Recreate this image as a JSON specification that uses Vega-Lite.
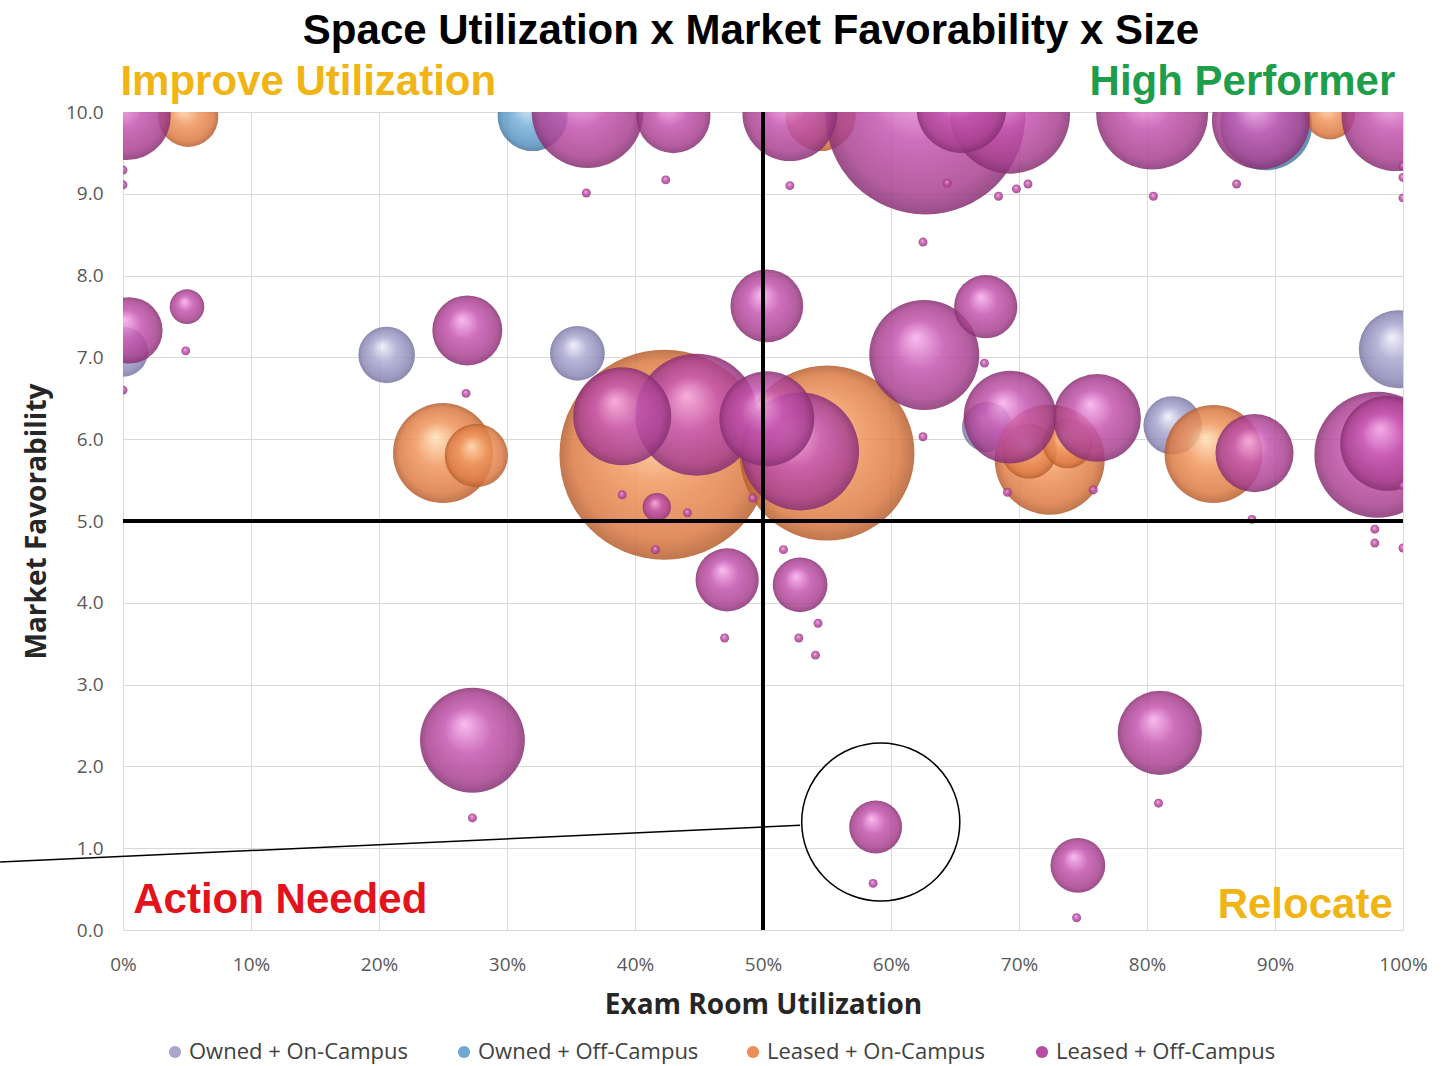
{
  "$schema": "https://vega.github.io/schema/vega-lite/v6.json",
  "width": 1280,
  "height": 818,
  "autosize": {"type": "none"},
  "padding": {"left": 123, "top": 112, "right": 47, "bottom": 136},
  "background": "white",
  "title": {
    "text": "Space Utilization x Market Favorability x Size",
    "font": "Liberation Sans",
    "fontSize": 42,
    "fontWeight": "bold",
    "color": "#000000",
    "anchor": "middle",
    "dx": -12,
    "offset": 8
  },
  "config": {
    "view": {"stroke": null},
    "axis": {
      "domain": false,
      "ticks": false,
      "tickSize": 0,
      "grid": true,
      "gridColor": "#d9d9d9",
      "gridWidth": 1,
      "labelFlush": false,
      "labelFont": "Open Sans",
      "labelFontSize": 19,
      "labelColor": "#595959",
      "titleFont": "Open Sans",
      "titleFontSize": 28,
      "titleFontWeight": "bold",
      "titleColor": "#262626"
    }
  },
  "datasets": {
    "bubbles": [
      {"type": "Owned + On-Campus", "x": 0.0, "y": 7.07, "size": 25},
      {"type": "Owned + On-Campus", "x": 20.6, "y": 7.03, "size": 32},
      {"type": "Owned + On-Campus", "x": 35.5, "y": 7.05, "size": 30},
      {"type": "Owned + On-Campus", "x": 67.5, "y": 6.15, "size": 25},
      {"type": "Owned + On-Campus", "x": 82.0, "y": 6.17, "size": 34},
      {"type": "Owned + On-Campus", "x": 99.6, "y": 7.1, "size": 61},
      {"type": "Owned + Off-Campus", "x": 32.0, "y": 9.95, "size": 49},
      {"type": "Owned + Off-Campus", "x": 89.3, "y": 9.85, "size": 85},
      {"type": "Leased + On-Campus", "x": 42.3, "y": 5.81, "size": 441},
      {"type": "Leased + On-Campus", "x": 55.0, "y": 5.83, "size": 306},
      {"type": "Leased + On-Campus", "x": 72.4, "y": 5.75, "size": 121},
      {"type": "Leased + On-Campus", "x": 25.0, "y": 5.83, "size": 100},
      {"type": "Leased + On-Campus", "x": 85.2, "y": 5.82, "size": 96},
      {"type": "Leased + On-Campus", "x": 54.5, "y": 9.95, "size": 49},
      {"type": "Leased + On-Campus", "x": 27.6, "y": 5.8, "size": 40},
      {"type": "Leased + On-Campus", "x": 5.1, "y": 9.94, "size": 36},
      {"type": "Leased + On-Campus", "x": 70.8, "y": 5.85, "size": 30},
      {"type": "Leased + On-Campus", "x": 73.8, "y": 5.95, "size": 25},
      {"type": "Leased + On-Campus", "x": 94.3, "y": 9.97, "size": 25},
      {"type": "Leased + Off-Campus", "x": 62.7, "y": 9.97, "size": 400},
      {"type": "Leased + Off-Campus", "x": 98.0, "y": 5.81, "size": 159},
      {"type": "Leased + Off-Campus", "x": 44.8, "y": 6.3, "size": 149},
      {"type": "Leased + Off-Campus", "x": 52.9, "y": 5.85, "size": 139},
      {"type": "Leased + Off-Campus", "x": 69.3, "y": 9.98, "size": 144},
      {"type": "Leased + Off-Campus", "x": 36.3, "y": 10.0, "size": 125},
      {"type": "Leased + Off-Campus", "x": 80.4, "y": 9.98, "size": 125},
      {"type": "Leased + Off-Campus", "x": 62.6, "y": 7.03, "size": 121},
      {"type": "Leased + Off-Campus", "x": 99.5, "y": 9.95, "size": 121},
      {"type": "Leased + Off-Campus", "x": 27.3, "y": 2.32, "size": 110},
      {"type": "Leased + Off-Campus", "x": 39.0, "y": 6.28, "size": 96},
      {"type": "Leased + Off-Campus", "x": 88.9, "y": 9.9, "size": 96},
      {"type": "Leased + Off-Campus", "x": 50.3, "y": 6.25, "size": 90},
      {"type": "Leased + Off-Campus", "x": 52.1, "y": 9.98, "size": 90},
      {"type": "Leased + Off-Campus", "x": 98.8, "y": 5.95, "size": 90},
      {"type": "Leased + Off-Campus", "x": 69.3, "y": 6.27, "size": 86},
      {"type": "Leased + Off-Campus", "x": 65.5, "y": 10.05, "size": 81},
      {"type": "Leased + Off-Campus", "x": 0.3, "y": 9.95, "size": 77},
      {"type": "Leased + Off-Campus", "x": 76.1, "y": 6.26, "size": 77},
      {"type": "Leased + Off-Campus", "x": 81.0, "y": 2.41, "size": 71},
      {"type": "Leased + Off-Campus", "x": 88.4, "y": 5.83, "size": 61},
      {"type": "Leased + Off-Campus", "x": 43.0, "y": 9.95, "size": 55},
      {"type": "Leased + Off-Campus", "x": 50.3, "y": 7.63, "size": 53},
      {"type": "Leased + Off-Campus", "x": 26.9, "y": 7.33, "size": 49},
      {"type": "Leased + Off-Campus", "x": 0.5, "y": 7.33, "size": 44},
      {"type": "Leased + Off-Campus", "x": 67.4, "y": 7.62, "size": 40},
      {"type": "Leased + Off-Campus", "x": 47.2, "y": 4.28, "size": 40},
      {"type": "Leased + Off-Campus", "x": 52.9, "y": 4.22, "size": 30},
      {"type": "Leased + Off-Campus", "x": 74.6, "y": 0.79, "size": 30},
      {"type": "Leased + Off-Campus", "x": 58.8, "y": 1.26, "size": 28},
      {"type": "Leased + Off-Campus", "x": 5.0, "y": 7.62, "size": 12},
      {"type": "Leased + Off-Campus", "x": 41.7, "y": 5.17, "size": 8},
      {"type": "Leased + Off-Campus", "x": 0.0, "y": 9.29, "size": 0.8},
      {"type": "Leased + Off-Campus", "x": 0.0, "y": 9.11, "size": 0.8},
      {"type": "Leased + Off-Campus", "x": 36.2, "y": 9.01, "size": 0.8},
      {"type": "Leased + Off-Campus", "x": 42.4, "y": 9.17, "size": 0.8},
      {"type": "Leased + Off-Campus", "x": 52.1, "y": 9.1, "size": 0.8},
      {"type": "Leased + Off-Campus", "x": 64.4, "y": 9.13, "size": 0.8},
      {"type": "Leased + Off-Campus", "x": 62.5, "y": 8.41, "size": 0.8},
      {"type": "Leased + Off-Campus", "x": 68.4, "y": 8.97, "size": 0.8},
      {"type": "Leased + Off-Campus", "x": 69.8, "y": 9.06, "size": 0.8},
      {"type": "Leased + Off-Campus", "x": 70.7, "y": 9.12, "size": 0.8},
      {"type": "Leased + Off-Campus", "x": 80.5, "y": 8.97, "size": 0.8},
      {"type": "Leased + Off-Campus", "x": 87.0, "y": 9.12, "size": 0.8},
      {"type": "Leased + Off-Campus", "x": 100.0, "y": 9.34, "size": 0.8},
      {"type": "Leased + Off-Campus", "x": 100.0, "y": 9.2, "size": 0.8},
      {"type": "Leased + Off-Campus", "x": 100.0, "y": 8.95, "size": 0.8},
      {"type": "Leased + Off-Campus", "x": 0.0, "y": 6.6, "size": 0.8},
      {"type": "Leased + Off-Campus", "x": 4.9, "y": 7.08, "size": 0.8},
      {"type": "Leased + Off-Campus", "x": 26.8, "y": 6.56, "size": 0.8},
      {"type": "Leased + Off-Campus", "x": 67.3, "y": 6.93, "size": 0.8},
      {"type": "Leased + Off-Campus", "x": 62.5, "y": 6.03, "size": 0.8},
      {"type": "Leased + Off-Campus", "x": 39.0, "y": 5.32, "size": 0.8},
      {"type": "Leased + Off-Campus", "x": 44.1, "y": 5.1, "size": 0.8},
      {"type": "Leased + Off-Campus", "x": 41.6, "y": 4.65, "size": 0.8},
      {"type": "Leased + Off-Campus", "x": 49.2, "y": 5.28, "size": 0.8},
      {"type": "Leased + Off-Campus", "x": 51.6, "y": 4.65, "size": 0.8},
      {"type": "Leased + Off-Campus", "x": 69.1, "y": 5.35, "size": 0.8},
      {"type": "Leased + Off-Campus", "x": 75.8, "y": 5.38, "size": 0.8},
      {"type": "Leased + Off-Campus", "x": 88.2, "y": 5.02, "size": 0.8},
      {"type": "Leased + Off-Campus", "x": 100.0, "y": 5.43, "size": 0.8},
      {"type": "Leased + Off-Campus", "x": 97.8, "y": 4.9, "size": 0.8},
      {"type": "Leased + Off-Campus", "x": 97.8, "y": 4.73, "size": 0.8},
      {"type": "Leased + Off-Campus", "x": 100.0, "y": 4.67, "size": 0.8},
      {"type": "Leased + Off-Campus", "x": 47.0, "y": 3.57, "size": 0.8},
      {"type": "Leased + Off-Campus", "x": 52.8, "y": 3.57, "size": 0.8},
      {"type": "Leased + Off-Campus", "x": 54.3, "y": 3.75, "size": 0.8},
      {"type": "Leased + Off-Campus", "x": 54.1, "y": 3.36, "size": 0.8},
      {"type": "Leased + Off-Campus", "x": 27.3, "y": 1.37, "size": 0.8},
      {"type": "Leased + Off-Campus", "x": 80.9, "y": 1.55, "size": 0.8},
      {"type": "Leased + Off-Campus", "x": 58.6, "y": 0.57, "size": 0.8},
      {"type": "Leased + Off-Campus", "x": 74.5, "y": 0.15, "size": 0.8}
    ]
  },
  "data": {"name": "bubbles"},
  "layer": [
    {
      "mark": {"type": "point", "filled": true, "opacity": 0},
      "encoding": {
        "x": {
          "field": "x", "type": "quantitative",
          "scale": {"domain": [0, 100], "nice": false, "zero": false},
          "axis": {
            "values": [0, 10, 20, 30, 40, 50, 60, 70, 80, 90, 100],
            "labelExpr": "datum.value + '%'",
            "labelPadding": 25,
            "title": "Exam Room Utilization",
            "titlePadding": 17
          }
        },
        "y": {
          "field": "y", "type": "quantitative",
          "scale": {"domain": [0, 10], "nice": false},
          "axis": {
            "values": [0, 1, 2, 3, 4, 5, 6, 7, 8, 9, 10],
            "format": ".1f",
            "labelPadding": 20,
            "title": "Market Favorability",
            "titlePadding": 14
          }
        },
        "color": {
          "field": "type", "type": "nominal",
          "scale": {
            "domain": ["Owned + On-Campus", "Owned + Off-Campus", "Leased + On-Campus", "Leased + Off-Campus"],
            "range": ["#A9A6CB", "#6FA8D3", "#EC8D55", "#B84BA3"]
          },
          "legend": {
            "title": null,
            "orient": "none",
            "legendX": 41,
            "legendY": 929,
            "direction": "horizontal",
            "columns": 4,
            "gridAlign": "all",
            "columnPadding": 43,
            "padding": 0,
            "symbolType": "circle",
            "symbolSize": 150,
            "symbolOpacity": 1,
            "symbolStrokeWidth": 0,
            "labelFont": "Open Sans",
            "labelFontSize": 22,
            "labelColor": "#404040",
            "labelLimit": 400,
            "labelOffset": 3
          }
        }
      }
    },
    {
      "transform": [{"filter": "datum.type === 'Owned + On-Campus'"}],
      "mark": {
        "type": "circle", "clip": true, "opacity": 0.85,
        "fill": {"gradient": "radial", "x1": 0.42, "y1": 0.34, "r1": 0, "x2": 0.5, "y2": 0.5, "r2": 0.5,
          "stops": [{"offset": 0, "color": "#F0EEFA"}, {"offset": 0.45, "color": "#ABA8D0"}, {"offset": 0.85, "color": "#8D89B8"}, {"offset": 1, "color": "#77739F"}]}
      },
      "encoding": {
        "x": {"field": "x", "type": "quantitative", "scale": {"domain": [0, 100]}},
        "y": {"field": "y", "type": "quantitative", "scale": {"domain": [0, 10]}},
        "size": {"field": "size", "type": "quantitative", "scale": {"domain": [0, 500], "range": [0, 50000]}, "legend": null}
      }
    },
    {
      "transform": [{"filter": "datum.type === 'Owned + Off-Campus'"}],
      "mark": {
        "type": "circle", "clip": true, "opacity": 0.85,
        "fill": {"gradient": "radial", "x1": 0.42, "y1": 0.34, "r1": 0, "x2": 0.5, "y2": 0.5, "r2": 0.5,
          "stops": [{"offset": 0, "color": "#D6EBF8"}, {"offset": 0.45, "color": "#78B2DA"}, {"offset": 0.85, "color": "#5A94C2"}, {"offset": 1, "color": "#46789F"}]}
      },
      "encoding": {
        "x": {"field": "x", "type": "quantitative", "scale": {"domain": [0, 100]}},
        "y": {"field": "y", "type": "quantitative", "scale": {"domain": [0, 10]}},
        "size": {"field": "size", "type": "quantitative", "scale": {"domain": [0, 500], "range": [0, 50000]}, "legend": null}
      }
    },
    {
      "transform": [{"filter": "datum.type === 'Leased + On-Campus'"}],
      "mark": {
        "type": "circle", "clip": true, "opacity": 0.85,
        "fill": {"gradient": "radial", "x1": 0.42, "y1": 0.34, "r1": 0, "x2": 0.5, "y2": 0.5, "r2": 0.5,
          "stops": [{"offset": 0, "color": "#FFE0B8"}, {"offset": 0.45, "color": "#F0965E"}, {"offset": 0.85, "color": "#DB7A44"}, {"offset": 1, "color": "#B55E2E"}]}
      },
      "encoding": {
        "x": {"field": "x", "type": "quantitative", "scale": {"domain": [0, 100]}},
        "y": {"field": "y", "type": "quantitative", "scale": {"domain": [0, 10]}},
        "size": {"field": "size", "type": "quantitative", "scale": {"domain": [0, 500], "range": [0, 50000]}, "legend": null}
      }
    },
    {
      "transform": [{"filter": "datum.type === 'Leased + Off-Campus'"}],
      "mark": {
        "type": "circle", "clip": true, "opacity": 0.85,
        "fill": {"gradient": "radial", "x1": 0.42, "y1": 0.34, "r1": 0, "x2": 0.5, "y2": 0.5, "r2": 0.5,
          "stops": [{"offset": 0, "color": "#F8B0EC"}, {"offset": 0.45, "color": "#C555B0"}, {"offset": 0.85, "color": "#A8418F"}, {"offset": 1, "color": "#862F72"}]}
      },
      "encoding": {
        "x": {"field": "x", "type": "quantitative", "scale": {"domain": [0, 100]}},
        "y": {"field": "y", "type": "quantitative", "scale": {"domain": [0, 10]}},
        "size": {"field": "size", "type": "quantitative", "scale": {"domain": [0, 500], "range": [0, 50000]}, "legend": null}
      }
    },
    {
      "data": {"values": [{"x": 50}]},
      "mark": {"type": "rule", "color": "#000000", "strokeWidth": 4},
      "encoding": {
        "x": {"field": "x", "type": "quantitative", "scale": {"domain": [0, 100]}}
      }
    },
    {
      "data": {"values": [{"y": 5}]},
      "mark": {"type": "rule", "color": "#000000", "strokeWidth": 4},
      "encoding": {
        "y": {"field": "y", "type": "quantitative", "scale": {"domain": [0, 10]}}
      }
    },
    {
      "data": {"values": [{"x": 59.2, "y": 1.32}]},
      "mark": {"type": "point", "shape": "circle", "filled": false, "stroke": "#000000", "strokeWidth": 1.5, "size": 25000, "opacity": 1, "clip": false},
      "encoding": {
        "x": {"field": "x", "type": "quantitative", "scale": {"domain": [0, 100]}},
        "y": {"field": "y", "type": "quantitative", "scale": {"domain": [0, 10]}}
      }
    },
    {
      "data": {"values": [{"x": -9.6, "y": 0.83}, {"x": 52.9, "y": 1.28}]},
      "mark": {"type": "line", "color": "#000000", "strokeWidth": 1.5, "clip": false},
      "encoding": {
        "x": {"field": "x", "type": "quantitative", "scale": {"domain": [0, 100]}},
        "y": {"field": "y", "type": "quantitative", "scale": {"domain": [0, 10]}}
      }
    },
    {
      "data": {"values": [{"label": "Improve Utilization", "x": -0.2, "y": 10.37}]},
      "mark": {"type": "text", "align": "left", "baseline": "middle", "font": "Liberation Sans", "fontSize": 42, "fontWeight": "bold", "color": "#F0B514", "clip": false},
      "encoding": {
        "x": {"field": "x", "type": "quantitative", "scale": {"domain": [0, 100]}},
        "y": {"field": "y", "type": "quantitative", "scale": {"domain": [0, 10]}},
        "text": {"field": "label"}
      }
    },
    {
      "data": {"values": [{"label": "High Performer", "x": 99.4, "y": 10.37}]},
      "mark": {"type": "text", "align": "right", "baseline": "middle", "font": "Liberation Sans", "fontSize": 42, "fontWeight": "bold", "color": "#1E9E4A", "clip": false},
      "encoding": {
        "x": {"field": "x", "type": "quantitative", "scale": {"domain": [0, 100]}},
        "y": {"field": "y", "type": "quantitative", "scale": {"domain": [0, 10]}},
        "text": {"field": "label"}
      }
    },
    {
      "data": {"values": [{"label": "Action Needed", "x": 0.8, "y": 0.37}]},
      "mark": {"type": "text", "align": "left", "baseline": "middle", "font": "Liberation Sans", "fontSize": 42, "fontWeight": "bold", "color": "#E3121B", "clip": false},
      "encoding": {
        "x": {"field": "x", "type": "quantitative", "scale": {"domain": [0, 100]}},
        "y": {"field": "y", "type": "quantitative", "scale": {"domain": [0, 10]}},
        "text": {"field": "label"}
      }
    },
    {
      "data": {"values": [{"label": "Relocate", "x": 99.2, "y": 0.31}]},
      "mark": {"type": "text", "align": "right", "baseline": "middle", "font": "Liberation Sans", "fontSize": 42, "fontWeight": "bold", "color": "#F0B514", "clip": false},
      "encoding": {
        "x": {"field": "x", "type": "quantitative", "scale": {"domain": [0, 100]}},
        "y": {"field": "y", "type": "quantitative", "scale": {"domain": [0, 10]}},
        "text": {"field": "label"}
      }
    }
  ]
}
